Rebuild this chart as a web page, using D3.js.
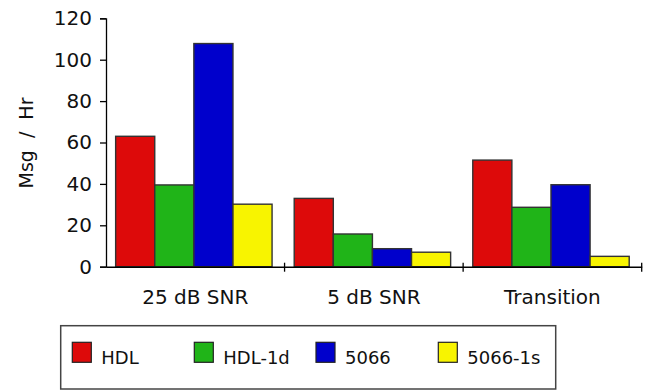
<!DOCTYPE html>
<html><head><meta charset="utf-8">
<script src="https://cdn.jsdelivr.net/npm/d3@7"></script>
<style>body{margin:0;background:#fff}svg{display:block}text{font-family:"DejaVu Sans",Verdana,sans-serif;fill:#111}</style>
</head><body>
<script>
const categories = ["25 dB SNR", "5 dB SNR", "Transition"];
const seriesNames = ["HDL", "HDL-1d", "5066", "5066-1s"];
const seriesColors = ["#dd0a0a", "#20b418", "#0000cc", "#f8f400"];
const HDL = [63, 33, 51.5];
const HDL_1d = [39.5, 15.8, 28.7];
const S5066 = [107.8, 8.7, 39.6];
const S5066_1s = [30.2, 7, 5];
const yTicks = [0, 20, 40, 60, 80, 100, 120];
const seriesValues = [HDL, HDL_1d, S5066, S5066_1s];

(function () {
const W = 648, H = 390;
const svg = d3.select("body").append("svg").attr("width", W).attr("height", H);
const mLeft = 106, mRight = 641.7, mTop = 18.3, mBottom = 266.7;

const x0 = d3.scaleBand().domain(categories).range([mLeft, mRight]).padding(0);
const gw = x0.bandwidth();
const x1 = d3.scaleBand().domain(seriesNames).range([gw * 0.054, gw * 0.93]).padding(0);
const y = d3.scaleLinear().domain([0, 120]).range([mBottom, mTop]);

// bars
const groups = svg.append("g").selectAll("g").data(categories).join("g")
  .attr("transform", c => `translate(${x0(c)},0)`);
groups.selectAll("rect").data((c, ci) => seriesNames.map((s, si) => ({s, si, v: seriesValues[si][ci]})))
  .join("rect")
  .attr("x", d => x1(d.s))
  .attr("y", d => y(d.v))
  .attr("width", x1.bandwidth())
  .attr("height", d => y(0) - y(d.v))
  .attr("fill", d => seriesColors[d.si])
  .attr("stroke", "#333")
  .attr("stroke-width", 1.4);

// y axis
const yAxis = svg.append("g").attr("transform", `translate(${mLeft},0)`)
  .call(d3.axisLeft(y).tickValues(yTicks).tickSize(6).tickPadding(8));
yAxis.select(".domain").attr("stroke", "#000").attr("stroke-width", 1.3);
yAxis.selectAll(".tick line").attr("stroke", "#000").attr("stroke-width", 1.3);
yAxis.selectAll("text").style("font-size", "20px").attr("fill", "#111");

// x axis
const xAxis = svg.append("g").attr("transform", `translate(0,${mBottom})`)
  .call(d3.axisBottom(x0).tickSize(0).tickPadding(23));
xAxis.select(".domain").attr("stroke", "#000").attr("stroke-width", 1.5);
xAxis.selectAll("text").style("font-size", "20px").attr("fill", "#111");
const bounds = categories.slice(1).map(c => x0(c)).concat([mRight]);
svg.append("g").selectAll("line").data(bounds).join("line")
  .attr("x1", d => d).attr("x2", d => d)
  .attr("y1", mBottom - 4).attr("y2", mBottom + 5)
  .attr("stroke", "#000").attr("stroke-width", 1.3);

// y title
svg.append("text")
  .attr("transform", `translate(33,143) rotate(-90)`)
  .attr("text-anchor", "middle")
  .style("font-size", "19px")
  .style("word-spacing", "6px")
  .text("Msg / Hr");

// legend
svg.append("rect").attr("x", 60.7).attr("y", 325.7).attr("width", 495).attr("height", 63.3)
  .attr("fill", "#fff").attr("stroke", "#444").attr("stroke-width", 1.5);
const legX = [72.3, 194.3, 316, 438.3];
const leg = svg.append("g").selectAll("g").data(seriesNames).join("g")
  .attr("transform", (d, i) => `translate(${legX[i]},342.3)`);
leg.append("rect").attr("width", 19).attr("height", 20)
  .attr("fill", (d, i) => seriesColors[i]).attr("stroke", "#222").attr("stroke-width", 1.2);
leg.append("text").attr("x", 29).attr("y", 21.5).style("font-size", "18px").text(d => d);
})();
</script>
</body></html>
